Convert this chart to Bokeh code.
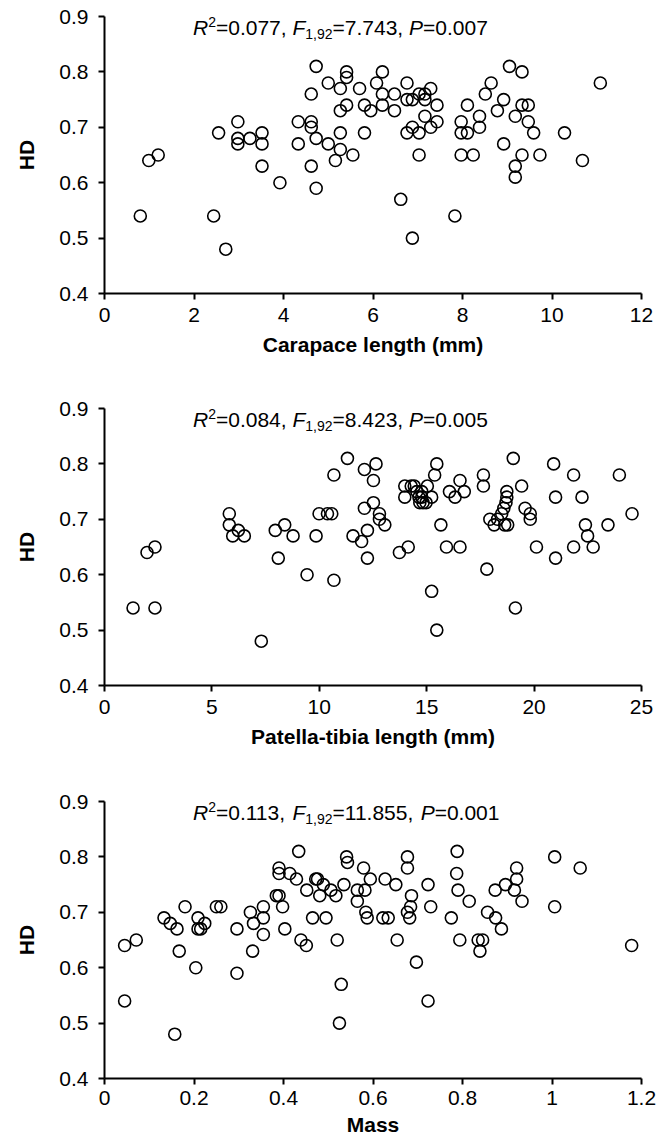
from bokeh.plotting import figure
from bokeh.models import Label
from bokeh.layouts import column
from bokeh.embed import file_html
from bokeh.resources import INLINE

# ---------------- data ----------------
# Panel 1: carapace length (mm) vs HD
carapace_x = [0.80, 0.99, 1.20, 2.44, 2.55, 2.71, 2.98, 2.98, 2.98, 3.25,
              3.52, 3.52, 3.52, 3.92, 4.33, 4.33, 4.62, 4.62, 4.62, 4.62,
              4.73, 4.73, 4.73, 5.00, 5.00, 5.16, 5.27, 5.27, 5.27, 5.27,
              5.41, 5.41, 5.41, 5.55, 5.70, 5.81, 5.81, 5.95, 6.08, 6.21,
              6.21, 6.21, 6.48, 6.48, 6.62, 6.76, 6.76, 6.76, 6.88, 6.88,
              6.88, 7.03, 7.03, 7.03, 7.16, 7.16, 7.16, 7.29, 7.29, 7.43,
              7.43, 7.83, 7.97, 7.97, 7.97, 8.11, 8.11, 8.24, 8.38, 8.38,
              8.51, 8.64, 8.78, 8.92, 8.92, 9.05, 9.18, 9.18, 9.18, 9.33,
              9.33, 9.33, 9.47, 9.47, 9.59, 9.73, 10.28, 10.68, 11.08]
carapace_hd = [0.54, 0.64, 0.65, 0.54, 0.69, 0.48, 0.71, 0.68, 0.67, 0.68,
               0.69, 0.67, 0.63, 0.60, 0.71, 0.67, 0.76, 0.71, 0.70, 0.63,
               0.81, 0.68, 0.59, 0.78, 0.67, 0.64, 0.77, 0.73, 0.69, 0.66,
               0.80, 0.79, 0.74, 0.65, 0.77, 0.74, 0.69, 0.73, 0.78, 0.80,
               0.76, 0.74, 0.76, 0.73, 0.57, 0.78, 0.75, 0.69, 0.75, 0.70,
               0.50, 0.76, 0.69, 0.65, 0.76, 0.75, 0.72, 0.77, 0.70, 0.74,
               0.71, 0.54, 0.71, 0.69, 0.65, 0.74, 0.69, 0.65, 0.72, 0.70,
               0.76, 0.78, 0.73, 0.75, 0.67, 0.81, 0.72, 0.63, 0.61, 0.80,
               0.74, 0.65, 0.74, 0.71, 0.69, 0.65, 0.69, 0.64, 0.78]

# Panel 2: patella-tibia length (mm) vs HD
patella_x = [1.33, 1.98, 2.35, 2.35, 5.81, 5.81, 5.97, 6.23, 6.51, 7.30,
             7.95, 8.09, 8.39, 8.78, 9.43, 9.85, 9.99, 10.38, 10.58, 10.68,
             10.68, 11.31, 11.57, 11.97, 12.10, 12.10, 12.24, 12.24, 12.52, 12.52,
             12.64, 12.80, 12.80, 13.05, 13.73, 13.98, 13.98, 14.14, 14.28, 14.42,
             14.54, 14.64, 14.68, 14.77, 14.77, 14.83, 14.97, 15.03, 15.23, 15.23,
             15.37, 15.47, 15.47, 15.66, 15.92, 16.06, 16.32, 16.55, 16.55, 16.75,
             17.64, 17.64, 17.80, 17.94, 18.14, 18.30, 18.49, 18.59, 18.63, 18.69,
             18.73, 18.73, 18.77, 19.03, 19.13, 19.42, 19.58, 19.82, 19.82, 20.11,
             20.91, 21.00, 21.00, 21.84, 21.84, 22.23, 22.39, 22.49, 22.75, 23.44,
             23.97, 24.56]
patella_hd = [0.54, 0.64, 0.65, 0.54, 0.71, 0.69, 0.67, 0.68, 0.67, 0.48,
              0.68, 0.63, 0.69, 0.67, 0.60, 0.67, 0.71, 0.71, 0.71, 0.78,
              0.59, 0.81, 0.67, 0.66, 0.79, 0.72, 0.68, 0.63, 0.77, 0.73,
              0.80, 0.71, 0.70, 0.69, 0.64, 0.76, 0.74, 0.65, 0.76, 0.76,
              0.75, 0.74, 0.73, 0.75, 0.74, 0.73, 0.73, 0.76, 0.74, 0.57,
              0.78, 0.80, 0.50, 0.69, 0.65, 0.75, 0.74, 0.77, 0.65, 0.75,
              0.78, 0.76, 0.61, 0.70, 0.69, 0.70, 0.71, 0.72, 0.69, 0.73,
              0.74, 0.75, 0.69, 0.81, 0.54, 0.76, 0.72, 0.71, 0.70, 0.65,
              0.80, 0.74, 0.63, 0.78, 0.65, 0.74, 0.69, 0.67, 0.65, 0.69,
              0.78, 0.71]

# Panel 3: mass vs HD
mass_x = [0.045, 0.045, 0.071, 0.133, 0.147, 0.157, 0.162, 0.167, 0.180, 0.204,
          0.209, 0.209, 0.215, 0.224, 0.250, 0.260, 0.296, 0.296, 0.326, 0.333,
          0.331, 0.355, 0.355, 0.355, 0.384, 0.390, 0.390, 0.390, 0.398, 0.403,
          0.414, 0.429, 0.434, 0.439, 0.451, 0.452, 0.465, 0.472, 0.476, 0.481,
          0.489, 0.495, 0.506, 0.517, 0.520, 0.525, 0.529, 0.535, 0.541, 0.543,
          0.565, 0.565, 0.579, 0.582, 0.584, 0.587, 0.594, 0.622, 0.627, 0.634,
          0.651, 0.654, 0.677, 0.677, 0.677, 0.682, 0.684, 0.686, 0.697, 0.723,
          0.723, 0.729, 0.775, 0.787, 0.788, 0.790, 0.794, 0.815, 0.835, 0.839,
          0.845, 0.856, 0.873, 0.874, 0.887, 0.896, 0.916, 0.921, 0.921, 0.933,
          1.006, 1.006, 1.063, 1.178]
mass_hd = [0.64, 0.54, 0.65, 0.69, 0.68, 0.48, 0.67, 0.63, 0.71, 0.60,
           0.69, 0.67, 0.67, 0.68, 0.71, 0.71, 0.67, 0.59, 0.70, 0.68,
           0.63, 0.69, 0.71, 0.66, 0.73, 0.78, 0.77, 0.73, 0.71, 0.67,
           0.77, 0.76, 0.81, 0.65, 0.64, 0.74, 0.69, 0.76, 0.76, 0.73,
           0.75, 0.69, 0.74, 0.73, 0.65, 0.50, 0.57, 0.75, 0.80, 0.79,
           0.74, 0.72, 0.78, 0.74, 0.70, 0.69, 0.76, 0.69, 0.76, 0.69,
           0.75, 0.65, 0.80, 0.78, 0.70, 0.69, 0.71, 0.73, 0.61, 0.75,
           0.54, 0.71, 0.69, 0.77, 0.81, 0.74, 0.65, 0.72, 0.65, 0.63,
           0.65, 0.70, 0.74, 0.69, 0.67, 0.75, 0.74, 0.78, 0.76, 0.72,
           0.80, 0.71, 0.78, 0.64]

# Axis ticks and labels
y_ticks = [0.4, 0.5, 0.6, 0.7, 0.8, 0.9]
y_tick_labels = ["0.4", "0.5", "0.6", "0.7", "0.8", "0.9"]
carapace_ticks = [0, 2, 4, 6, 8, 10, 12]
carapace_tick_labels = ["0", "2", "4", "6", "8", "10", "12"]
patella_ticks = [0, 5, 10, 15, 20, 25]
patella_tick_labels = ["0", "5", "10", "15", "20", "25"]
mass_ticks = [0, 0.2, 0.4, 0.6, 0.8, 1, 1.2]
mass_tick_labels = ["0", "0.2", "0.4", "0.6", "0.8", "1", "1.2"]

x_titles = ["Carapace length (mm)", "Patella-tibia length (mm)", "Mass"]
y_title = "HD"

# Regression statistics
stat_r2 = ["0.077", "0.084", "0.113"]
stat_df = ["1,92", "1,92", "1,92"]
stat_f = ["7.743", "8.423", "11.855"]
stat_p = ["0.007", "0.005", "0.001"]

# ---------------- styling helpers ----------------
FONT = "Liberation Sans"
MAIN = 21
SMALL = 14

# Arial/Liberation Sans advance widths (em units)
W = {"0": .556, "1": .556, "2": .556, "3": .556, "4": .556, "5": .556,
     "6": .556, "7": .556, "8": .556, "9": .556, ".": .278, ",": .278,
     " ": .278, "=": .584, "R": .722, "F": .611, "P": .667}


def tw(s, size):
    return sum(W.get(c, .556) for c in s) * size


def make_panel(xs, ys, x_end, ticks, tick_labels, xtitle, i, height,
               b_top, b_bottom, lab_standoff, title_standoff):
    p = figure(width=666, height=height, x_range=(0, x_end), y_range=(0.4, 0.9),
               output_backend="svg", toolbar_location=None,
               min_border_left=104, min_border_right=25,
               min_border_top=b_top, min_border_bottom=b_bottom)
    p.outline_line_color = None
    p.xgrid.visible = False
    p.ygrid.visible = False
    p.background_fill_color = "white"
    p.border_fill_color = "white"

    p.scatter(xs, ys, size=12, marker="circle", fill_color=None,
              line_color="black", line_width=1.6)

    for ax in (p.xaxis[0], p.yaxis[0]):
        ax.axis_line_width = 2
        ax.axis_line_color = "black"
        ax.major_tick_line_width = 2
        ax.major_tick_line_color = "black"
        ax.major_tick_in = 0
        ax.major_tick_out = 6
        ax.minor_tick_line_color = None
        ax.major_label_text_font = FONT
        ax.major_label_text_font_size = f"{MAIN}px"
        ax.major_label_text_color = "black"
        ax.axis_label_text_font = FONT
        ax.axis_label_text_font_size = f"{MAIN}px"
        ax.axis_label_text_font_style = "bold"
        ax.axis_label_text_color = "black"

    p.xaxis.ticker = ticks
    p.xaxis.major_label_overrides = {t: l for t, l in zip(ticks, tick_labels)}
    p.xaxis.axis_label = xtitle
    p.xaxis.major_label_standoff = lab_standoff
    p.xaxis.axis_label_standoff = title_standoff

    p.yaxis.ticker = y_ticks
    p.yaxis.major_label_overrides = {t: l for t, l in zip(y_ticks, y_tick_labels)}
    p.yaxis.axis_label = y_title
    p.yaxis.major_label_standoff = 10
    p.yaxis.axis_label_standoff = 18

    # statistics annotation: R^2=..., F_{1,92}=..., P=...
    pieces = [
        ("R", "italic", MAIN, 0),
        ("2", "normal", SMALL, 5),
        ("=" + stat_r2[i] + ", ", "normal", MAIN, 0),
        ("F", "italic", MAIN, 0),
        (stat_df[i], "normal", SMALL, -7),
        ("=" + stat_f[i] + ", ", "normal", MAIN, 0),
        ("P", "italic", MAIN, 0),
        ("=" + stat_p[i], "normal", MAIN, 0),
    ]
    xoff = 88.5
    for txt, style, size, rise in pieces:
        p.add_layout(Label(x=0, y=0.9, x_units="data", y_units="data",
                           x_offset=xoff, y_offset=-10.5 + rise,
                           text=txt, text_font=FONT, text_font_style=style,
                           text_font_size=f"{size}px", text_color="black",
                           text_baseline="alphabetic", text_align="left"))
        xoff += tw(txt, size)
    return p


p1 = make_panel(carapace_x, carapace_hd, 12, carapace_ticks, carapace_tick_labels,
                x_titles[0], 0, 392, 16, 99, 8, 8)
p2 = make_panel(patella_x, patella_hd, 25, patella_ticks, patella_tick_labels,
                x_titles[1], 1, 393, 16, 100, 8, 8)
p3 = make_panel(mass_x, mass_hd, 1.2, mass_ticks, mass_tick_labels,
                x_titles[2], 2, 355, 16, 62, 6, 5)

layout = column(p1, p2, p3, spacing=0)
open("out.html", "w").write(file_html(layout, INLINE))
